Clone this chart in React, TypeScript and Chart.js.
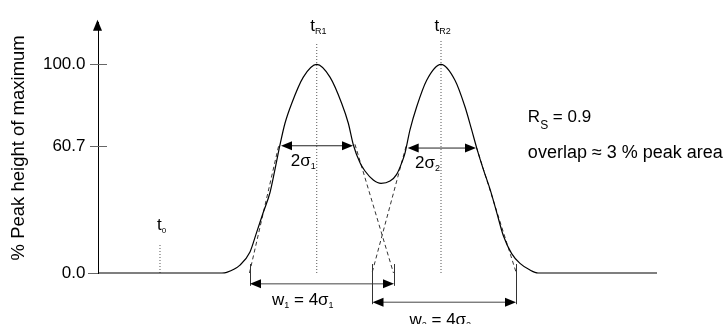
import { useEffect, useRef } from 'react';
import { Chart, registerables } from 'chart.js';

Chart.register(...registerables);

// ---- data (x in arbitrary time units 0..100, y in % of peak maximum) ----
const CURVE_X = [0, 22.18, 23.02, 25.4, 27.19, 28.39, 29.57, 30.77, 31.66, 32.56, 33.45, 34.65, 36.73, 39.13, 41.5, 43.6, 44.78, 45.67, 46.87, 47.76, 49.25, 50.63, 52.24, 53.43, 54.33, 54.92, 55.81, 57.01, 58.8, 61.36, 63.86, 65.65, 66.85, 67.75, 68.93, 70.13, 71.32, 72.5, 74.0, 75.49, 77.28, 78.71, 100];
const CURVE_Y = [0, 0, 0.33, 3.8, 10.1, 19.6, 29.1, 38.6, 49.7, 61.5, 71.8, 81.3, 93.9, 100, 93.9, 81.3, 71.8, 61.5, 52.8, 48.9, 44.6, 43.0, 44.1, 47.3, 52.8, 57.5, 68.6, 79.7, 92.4, 100, 92.4, 79.7, 68.6, 59.9, 49.7, 40.2, 29.1, 18.0, 9.3, 4.6, 1.4, 0, 0];

const TAN1_LEFT_X = [27.1, 32.38];
const TAN1_LEFT_Y = [0, 61.7];
const TAN1_RIGHT_X = [45.97, 52.86];
const TAN1_RIGHT_Y = [61.7, 0];
const TAN2_LEFT_X = [55.1, 49.02];
const TAN2_LEFT_Y = [60.7, 0];
const TAN2_RIGHT_X = [67.71, 74.83];
const TAN2_RIGHT_Y = [60.2, 0];

const MARKER_SUB = ['0', 'R1', 'R2'];
const MARKER_X = [11.09, 39.13, 61.36];
const MARKER_TOP = [14.2, 110.5, 112.1];

const Y_TICKS = [0, 60.7, 100];

const SIGMA_SUB = ['1', '2'];
const SIGMA_LEFT = [32.74, 55.4];
const SIGMA_RIGHT = [45.62, 67.62];
const SIGMA_Y = [61.0, 59.9];

const W_SUB = ['1', '2'];
const W_LEFT = [27.19, 49.1];
const W_RIGHT = [52.95, 74.78];
const W_Y = [-5.2, -14.0];

const RS_TEXT = '0.9';
const OVERLAP_TEXT = 'overlap \u2248 3 % peak area';

const FONT = "'Liberation Sans', Arial, Helvetica, sans-serif";
const fnt = (s: number) => `${s}px ${FONT}`;

function pts(xs: number[], ys: number[]) {
  return xs.map((x, i) => ({ x, y: ys[i] }));
}

function drawParts(ctx: CanvasRenderingContext2D, x: number, y: number, parts: [string, number, number][]) {
  let cx = x;
  for (const [t, size, dy] of parts) {
    ctx.font = fnt(size);
    ctx.fillText(t, cx, y + dy);
    cx += ctx.measureText(t).width;
  }
}

function head(ctx: CanvasRenderingContext2D, x: number, y: number, dir: string) {
  const L = 11, H = 4.5;
  ctx.beginPath();
  if (dir === 'left') { ctx.moveTo(x, y); ctx.lineTo(x + L, y - H); ctx.lineTo(x + L, y + H); }
  else if (dir === 'right') { ctx.moveTo(x, y); ctx.lineTo(x - L, y - H); ctx.lineTo(x - L, y + H); }
  else { ctx.moveTo(x, y); ctx.lineTo(x - H, y + L); ctx.lineTo(x + H, y + L); }
  ctx.closePath();
  ctx.fill();
}

function seg(ctx: CanvasRenderingContext2D, x1: number, y1: number, x2: number, y2: number) {
  ctx.beginPath();
  ctx.moveTo(x1, y1);
  ctx.lineTo(x2, y2);
  ctx.stroke();
}

const annotations = {
  id: 'annotations',
  afterDraw(chart: any) {
    const ctx: CanvasRenderingContext2D = chart.ctx;
    const X = (v: number) => chart.scales.x.getPixelForValue(v);
    const Y = (v: number) => chart.scales.y.getPixelForValue(v);
    const area = chart.chartArea;
    ctx.save();
    ctx.fillStyle = '#000';
    ctx.strokeStyle = '#000';
    ctx.lineWidth = 1;
    // y-axis arrow
    head(ctx, area.left - 0.5, area.top - 3, 'up');
    // tick marks crossing the axis
    ctx.strokeStyle = '#666';
    for (const v of Y_TICKS) {
      const py = Math.round(Y(v)) + 0.5;
      if (v > 0) seg(ctx, area.left - 8, py, area.left + 9, py);
      else seg(ctx, area.left - 10, py, area.left, py);
    }
    // retention time labels
    ctx.fillStyle = '#000';
    ctx.textAlign = 'left';
    ctx.textBaseline = 'alphabetic';
    drawParts(ctx, X(MARKER_X[0]) - 3, Y(MARKER_TOP[0]) - 13, [['t', 17, 0], [MARKER_SUB[0], 8, 3]]);
    for (let i = 1; i < 3; i++) {
      drawParts(ctx, X(MARKER_X[i]) - 6.5, Y(115.8), [['t', 17, 0], [MARKER_SUB[i], 9, 3]]);
    }
    // 2 sigma arrows
    ctx.strokeStyle = '#222';
    for (let i = 0; i < 2; i++) {
      const y = Y(SIGMA_Y[i]);
      const x1 = X(SIGMA_LEFT[i]), x2 = X(SIGMA_RIGHT[i]);
      seg(ctx, x1 + 4, y, x2 - 4, y);
      head(ctx, x1, y, 'left');
      head(ctx, x2, y, 'right');
      drawParts(ctx, X(MARKER_X[i + 1]) - 26, y + 20, [['2\u03c3', 17, 0], [SIGMA_SUB[i], 9, 3]]);
    }
    // peak width arrows
    const wdx = [22, 37];
    const wdy = [21.5, 22.5];
    for (let i = 0; i < 2; i++) {
      const y = Y(W_Y[i]);
      const x1 = X(W_LEFT[i]), x2 = X(W_RIGHT[i]);
      ctx.strokeStyle = '#333';
      seg(ctx, Math.round(x1) + 0.5, Y(4.3), Math.round(x1) + 0.5, y + 2);
      seg(ctx, Math.round(x2) + 0.5, Y(4.3), Math.round(x2) + 0.5, y + 2);
      ctx.strokeStyle = '#444';
      seg(ctx, x1 + 4, y, x2 - 4, y);
      head(ctx, x1, y, 'left');
      head(ctx, x2, y, 'right');
      drawParts(ctx, x1 + wdx[i], y + wdy[i], [['w', 17, 0], [W_SUB[i], 9, 3], [' = 4\u03c3', 17, 0], [W_SUB[i], 9, 3]]);
    }
    // resolution text
    const tx = X(76.9);
    drawParts(ctx, tx, Y(72.5), [['R', 17, 0], ['S', 12, 7], [' = ' + RS_TEXT, 17, 0]]);
    ctx.font = fnt(18);
    ctx.fillText(OVERLAP_TEXT, tx, Y(55));
    ctx.restore();
  },
};

export default function App() {
  const ref = useRef<HTMLCanvasElement>(null);
  useEffect(() => {
    const line = (xs: number[], ys: number[], color: string, dash: number[], extra: any = {}) => ({
      data: pts(xs, ys),
      borderColor: color,
      borderWidth: 1,
      borderDash: dash,
      pointRadius: 0,
      fill: false,
      tension: 0,
      clip: false,
      ...extra,
    });
    const chart = new Chart(ref.current!, {
      type: 'line',
      data: {
        datasets: [
          line(CURVE_X, CURVE_Y, '#000', [], { cubicInterpolationMode: 'monotone', borderWidth: 1.2 }),
          line(TAN1_LEFT_X, TAN1_LEFT_Y, '#333', [4, 3]),
          line(TAN1_RIGHT_X, TAN1_RIGHT_Y, '#333', [4, 3]),
          line(TAN2_LEFT_X, TAN2_LEFT_Y, '#333', [4, 3]),
          line(TAN2_RIGHT_X, TAN2_RIGHT_Y, '#333', [4, 3]),
          ...MARKER_X.map((x, i) => line([x, x], [0, MARKER_TOP[i]], '#555', [1, 2])),
        ] as any,
      },
      options: {
        responsive: false,
        animation: false,
        devicePixelRatio: 1,
        layout: { padding: { top: 20, right: 68, bottom: 51, left: 0 } },
        plugins: { legend: { display: false }, tooltip: { enabled: false } },
        scales: {
          x: { type: 'linear', min: 0, max: 100, display: false },
          y: {
            type: 'linear',
            min: 0,
            max: 120,
            afterFit: (s: any) => { s.width = 98; },
            afterBuildTicks: (s: any) => { s.ticks = Y_TICKS.map((v) => ({ value: v })); },
            ticks: {
              callback: (v: any) => Number(v).toFixed(1),
              font: { size: 17, family: FONT },
              color: '#000',
              padding: 12.5,
              autoSkip: false,
            },
            grid: { drawOnChartArea: false, drawTicks: false },
            border: { display: true, color: '#000', width: 1 },
            title: {
              display: true,
              text: '% Peak height of maximum',
              font: { size: 18.5, family: FONT },
              color: '#000',
              padding: { top: 8, bottom: 0 },
            },
          },
        },
      } as any,
      plugins: [annotations],
    });
    return () => chart.destroy();
  }, []);
  return (
    <div style={{ position: 'absolute', left: 0, top: 0, width: 725, height: 324, background: '#fff' }}>
      <canvas ref={ref} width={725} height={324} style={{ display: 'block' }} />
    </div>
  );
}
